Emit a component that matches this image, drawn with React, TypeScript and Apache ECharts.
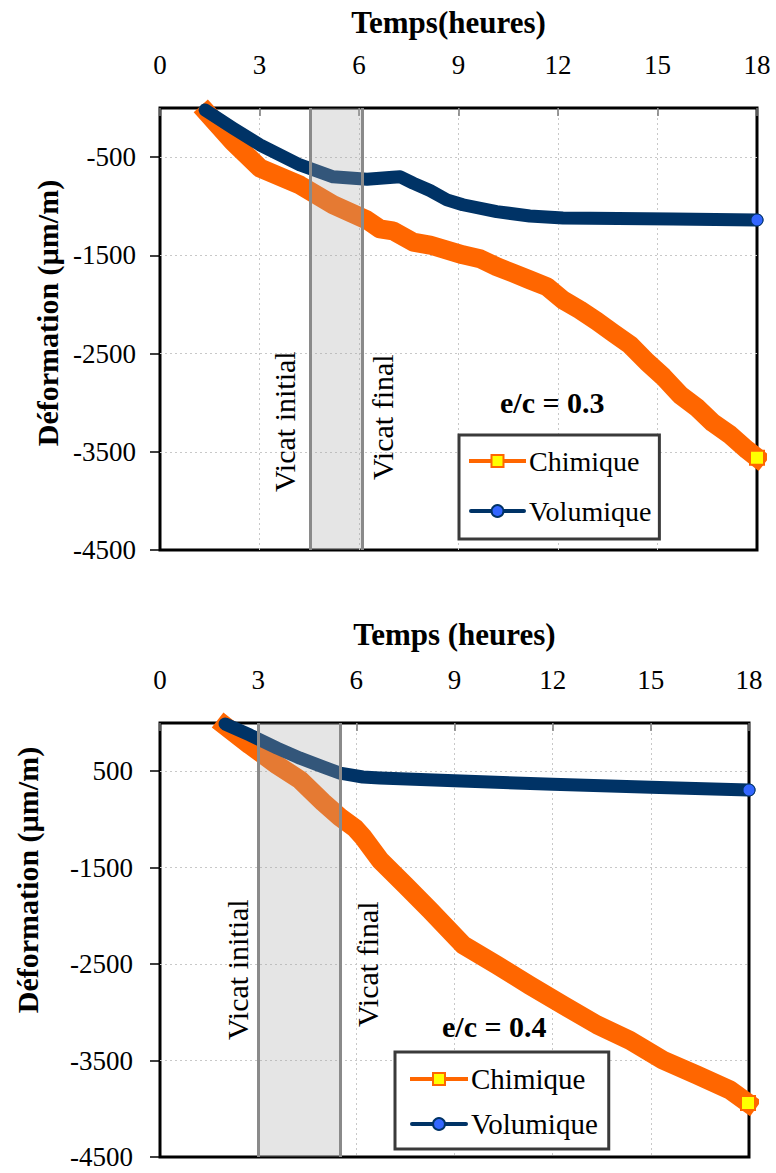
import React, { useEffect, useRef } from "react";
import * as echarts from "echarts";

// ---------- Data ----------
// Chart 1 : e/c = 0.3
const chimTime03 = [1.42, 2.2, 3.01, 4.22, 5.22, 6.24, 6.63, 7.02, 7.63, 8.14, 9.13, 9.65, 10.15, 10.64, 11.15, 11.67, 12.15, 12.66, 13.17, 13.66, 14.17, 14.68, 15.17, 15.68, 16.19, 16.67, 17.18, 17.7, 18.0];
const chimValue03 = [-50, -345, -610, -785, -985, -1140, -1230, -1250, -1365, -1395, -1495, -1535, -1615, -1680, -1750, -1820, -1955, -2055, -2170, -2290, -2410, -2585, -2735, -2920, -3050, -3205, -3325, -3480, -3560];
const voluTime03 = [1.36, 2.2, 3.01, 4.22, 5.22, 6.24, 7.02, 7.24, 7.63, 8.14, 8.65, 9.13, 10.15, 11.15, 12.15, 15.47, 18.0];
const voluValue03 = [-20, -205, -375, -580, -700, -725, -705, -700, -765, -840, -935, -985, -1055, -1100, -1120, -1130, -1140];
const vicat03 = [4.52, 6.09];

// Chart 2 : e/c = 0.4
const chimTime04 = [1.99, 2.75, 3.58, 4.28, 4.98, 5.5, 5.96, 6.2, 6.72, 7.49, 8.25, 9.26, 10.3, 11.3, 12.32, 13.36, 14.36, 15.37, 16.41, 17.42, 17.97];
const chimValue04 = [-30, -230, -435, -590, -820, -975, -1090, -1180, -1420, -1680, -1940, -2300, -2510, -2720, -2925, -3130, -3290, -3495, -3650, -3805, -3940];
const voluTime04 = [1.99, 2.75, 3.58, 4.28, 4.98, 5.5, 6.2, 6.72, 9.0, 12.0, 15.0, 16.9, 18.0];
const voluValue04 = [-10, -125, -260, -365, -455, -520, -560, -570, -600, -635, -665, -685, -695];
const vicat04 = [3.0, 5.5];

const seriesNames = ["Chimique", "Volumique"];
const vicatLabels = ["Vicat initial", "Vicat final"];
const xMin = 0, xMax = 18, xStep = 3;
const yMin = -4500, yMax = 0, yStep = 1000;

const SERIF = "'Liberation Serif', 'Times New Roman', serif";

type Cfg = {
  chimT: number[]; chimV: number[]; voluT: number[]; voluV: number[]; vicat: number[];
  xName: string; ratio: string;
  grid: { left: number; top: number; width: number; height: number };
  xNameGap: number; xNamePad: number[];
  yNameGap: number; yNamePad: number[]; yLabelMargin: number;
  yFormatter: (v: number) => string;
  ratioPos: { left: number; top: number };
  legend: { left: number; top: number; padding: number[]; itemGap: number; fontSize: number; itemWidth: number };
  vicatDist: number[][];
};

function buildOption(c: Cfg): any {
  const chim = c.chimT.map((t, i) => [t, c.chimV[i]]);
  const volu = c.voluT.map((t, i) => [t, c.voluV[i]]);
  const nC = chim.length, nV = volu.length;
  const split = { show: true, showMinLine: false, showMaxLine: false, lineStyle: { color: "#c8c8c8", type: [2, 3], width: 1 } };
  return {
    animation: false,
    title: {
      text: c.ratio, left: c.ratioPos.left, top: c.ratioPos.top, padding: 0,
      textStyle: { fontFamily: SERIF, fontSize: 30, fontWeight: "bold", color: "#000" },
    },
    legend: {
      data: seriesNames, orient: "vertical", left: c.legend.left, top: c.legend.top,
      padding: c.legend.padding, itemGap: c.legend.itemGap, itemWidth: c.legend.itemWidth, itemHeight: 15,
      borderColor: "#3a3a3a", borderWidth: 3, selectedMode: false, backgroundColor: "#fff",
      lineStyle: { width: 4 },
      textStyle: { fontFamily: SERIF, fontSize: c.legend.fontSize, color: "#000", lineHeight: 30 },
    },
    grid: { ...c.grid, show: true, borderColor: "#000", borderWidth: 3, backgroundColor: "transparent" },
    xAxis: {
      type: "value", position: "top", min: xMin, max: xMax, interval: xStep,
      name: c.xName, nameLocation: "middle", nameGap: c.xNameGap,
      nameTextStyle: { fontFamily: SERIF, fontSize: 31, fontWeight: "bold", color: "#000", padding: c.xNamePad },
      axisLine: { show: false },
      axisTick: { show: true, inside: true, length: 8, lineStyle: { color: "#777", width: 1.5 } },
      axisLabel: { margin: 30, fontFamily: SERIF, fontSize: 27, color: "#000" },
      splitLine: split,
    },
    yAxis: {
      type: "value", min: yMin, max: yMax, interval: yStep,
      name: "Déformation (µm/m)", nameLocation: "middle", nameGap: c.yNameGap,
      nameTextStyle: { fontFamily: SERIF, fontSize: 30, fontWeight: "bold", color: "#000", padding: c.yNamePad },
      axisLine: { show: false },
      axisTick: { show: true, length: 10, lineStyle: { color: "#000", width: 1.5 } },
      axisLabel: { margin: c.yLabelMargin, fontFamily: SERIF, fontSize: 27, color: "#000", showMaxLabel: false, formatter: c.yFormatter },
      splitLine: split,
    },
    series: [
      {
        name: seriesNames[0], type: "line", data: chim, clip: false,
        symbol: "rect", symbolSize: (_v: any, p: any) => (p.dataIndex === nC - 1 ? 14 : 0),
        lineStyle: { color: "#FF6600", width: 19, cap: "square", join: "round" },
        itemStyle: { color: "#FFFF00", borderColor: "#FF6600", borderWidth: 2 },
        emphasis: { disabled: true }, z: 2,
      },
      {
        name: seriesNames[1], type: "line", data: volu, clip: false,
        symbol: "circle", symbolSize: (_v: any, p: any) => (p.dataIndex === nV - 1 ? 12 : 0),
        lineStyle: { color: "#003366", width: 13, cap: "round", join: "round" },
        itemStyle: { color: "#3366FF", borderColor: "#003366", borderWidth: 1 },
        emphasis: { disabled: true }, z: 3,
        markArea: {
          silent: true, z: 10,
          itemStyle: { color: "rgba(170,170,170,0.3)" },
          data: [[{ xAxis: c.vicat[0] }, { xAxis: c.vicat[1] }]],
        },
        markLine: {
          silent: true, z: 11, symbol: ["none", "none"],
          lineStyle: { color: "#8a8a8a", width: 3, type: "solid" },
          label: { show: true, fontFamily: SERIF, fontSize: 30, color: "#000" },
          data: [
            { xAxis: c.vicat[0], label: { formatter: vicatLabels[0], position: "insideStartTop", distance: c.vicatDist[0] } },
            { xAxis: c.vicat[1], label: { formatter: vicatLabels[1], position: "insideStartBottom", distance: c.vicatDist[1] } },
          ],
        },
      },
    ],
  };
}

const cfgTop: Cfg = {
  chimT: chimTime03, chimV: chimValue03, voluT: voluTime03, voluV: voluValue03, vicat: vicat03,
  xName: "Temps(heures)", ratio: "e/c = 0.3",
  grid: { left: 160, top: 108, width: 597, height: 442 },
  xNameGap: 70, xNamePad: [0, 20, 0, 0],
  yNameGap: 98, yNamePad: [0, 0, 0, 32], yLabelMargin: 24,
  yFormatter: (v: number) => String(v),
  ratioPos: { left: 500, top: 387 },
  legend: { left: 459, top: 435, padding: [11, 8, 13, 10], itemGap: 20, fontSize: 28, itemWidth: 53 },
  vicatDist: [[58, 10], [70, 6]],
};

const cfgBottom: Cfg = {
  chimT: chimTime04, chimV: chimValue04, voluT: voluTime04, voluV: voluValue04, vicat: vicat04,
  xName: "Temps (heures)", ratio: "e/c = 0.4",
  grid: { left: 160, top: 133, width: 589, height: 434 },
  xNameGap: 73, xNamePad: [0, 0, 0, 0],
  yNameGap: 118, yNamePad: [0, 0, 0, 120], yLabelMargin: 27,
  yFormatter: (v: number) => (v === -500 ? "500" : String(v)),
  ratioPos: { left: 442, top: 421 },
  legend: { left: 395, top: 462, padding: [12, 11, 10, 15], itemGap: 15, fontSize: 29, itemWidth: 54 },
  vicatDist: [[117, 6], [130, 13]],
};

function Panel({ cfg, top, height }: { cfg: Cfg; top: number; height: number }) {
  const ref = useRef<HTMLDivElement>(null);
  useEffect(() => {
    if (!ref.current) return;
    const chart = echarts.init(ref.current, undefined, { renderer: "svg" });
    chart.setOption(buildOption(cfg));
    return () => chart.dispose();
  }, [cfg]);
  return <div ref={ref} style={{ position: "absolute", left: 0, top, width: 776, height }} />;
}

export default function App() {
  return (
    <div style={{ position: "absolute", left: 0, top: 0, width: 776, height: 1173, background: "#fff" }}>
      <Panel cfg={cfgTop} top={0} height={590} />
      <Panel cfg={cfgBottom} top={590} height={583} />
    </div>
  );
}
